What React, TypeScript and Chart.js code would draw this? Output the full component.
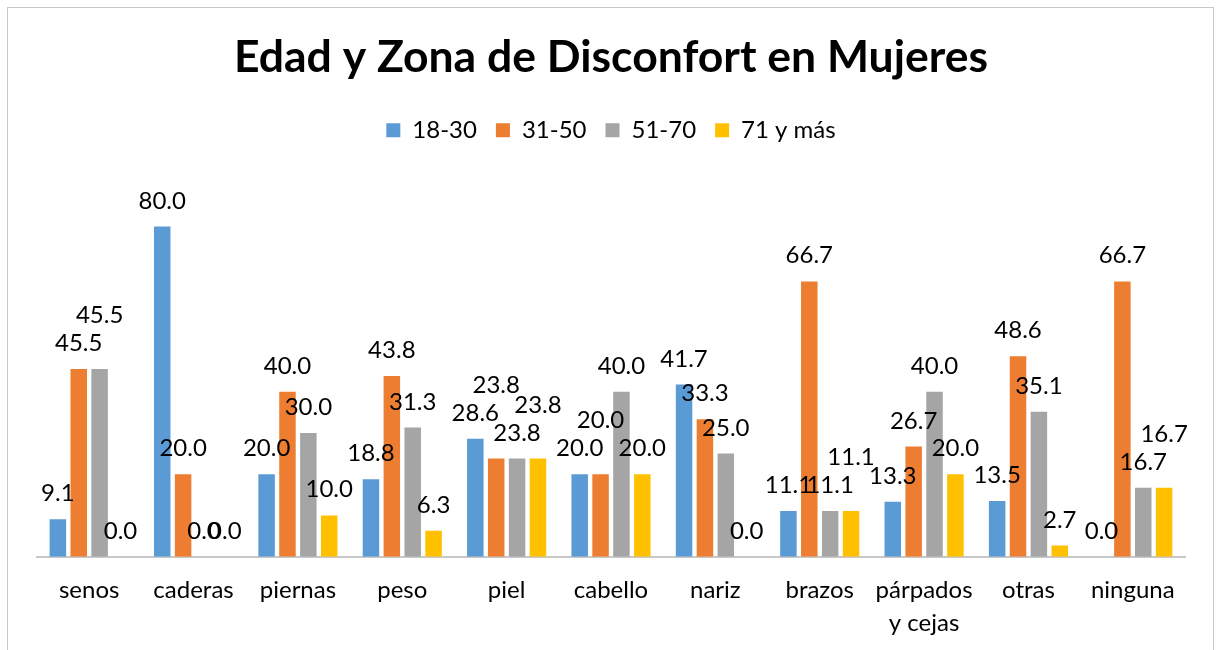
import React, { useEffect, useRef } from "react";
import { Chart, registerables } from "chart.js";

Chart.register(...registerables);

const categories: (string | string[])[] = [
  "senos", "caderas", "piernas", "peso", "piel", "cabello", "nariz", "brazos",
  ["párpados", "y cejas"], "otras", "ninguna",
];
const seriesNames = ["18-30", "31-50", "51-70", "71 y más"];
const s18_30 = [9.1, 80.0, 20.0, 18.8, 28.6, 20.0, 41.7, 11.1, 13.3, 13.5, 0.0];
const s31_50 = [45.5, 20.0, 40.0, 43.8, 23.8, 20.0, 33.3, 66.7, 26.7, 48.6, 66.7];
const s51_70 = [45.5, 0.0, 30.0, 31.3, 23.8, 40.0, 25.0, 11.1, 40.0, 35.1, 16.7];
const s71mas = [0.0, 0.0, 10.0, 6.3, 23.8, 20.0, 0.0, 11.1, 20.0, 2.7, 16.7];
const seriesColors = ["#5B9BD5", "#ED7D31", "#A5A5A5", "#FFC000"];

const FONT = "Lato";
const LABEL_SIZE = 24;

const dataLabelPlugin = {
  id: "dataLabels",
  afterDatasetsDraw(chart: any) {
    const ctx = chart.ctx;
    ctx.save();
    ctx.font = `${LABEL_SIZE}px ${FONT}`;
    ctx.fillStyle = "#000";
    ctx.textAlign = "center";
    ctx.textBaseline = "alphabetic";
    const n = chart.data.labels.length;
    for (let i = 0; i < n; i++) {
      const placed: { x: number; y: number; w: number }[] = [];
      chart.data.datasets.forEach((ds: any, di: number) => {
        const meta = chart.getDatasetMeta(di);
        const el = meta.data[i];
        if (!el) return;
        const text = Number(ds.data[i]).toFixed(1);
        const w = ctx.measureText(text).width;
        let y = el.y - 18;
        let moved = true;
        let guard = 0;
        while (moved && guard < 10) {
          moved = false;
          guard++;
          for (const p of placed) {
            const hOverlap = Math.min(el.x + w / 2, p.x + p.w / 2) - Math.max(el.x - w / 2, p.x - p.w / 2);
            if (hOverlap > 0.4 * Math.min(w, p.w) && Math.abs(y - p.y) < 22) {
              y = p.y - 28;
              moved = true;
            }
          }
        }
        placed.push({ x: el.x, y, w });
        ctx.fillText(text, el.x, y);
      });
    }
    ctx.restore();
  },
};

export default function App() {
  const canvasRef = useRef<HTMLCanvasElement | null>(null);

  useEffect(() => {
    if (!canvasRef.current) return;
    const allSeries = [s18_30, s31_50, s51_70, s71mas];
    const chart = new Chart(canvasRef.current, {
      type: "bar",
      data: {
        labels: categories,
        datasets: allSeries.map((d, k) => ({
          label: seriesNames[k],
          data: d,
          backgroundColor: seriesColors[k],
          borderWidth: 0,
          categoryPercentage: 0.8,
          barPercentage: 0.79,
        })),
      },
      options: {
        responsive: false,
        animation: false,
        layout: { padding: { left: 37, right: 31, top: 0, bottom: -7 } },
        plugins: {
          title: {
            display: true,
            text: "Edad y Zona de Disconfort en Mujeres",
            color: "#000",
            font: { family: FONT, size: 44.5, weight: "bold", lineHeight: 1.2 },
            padding: { top: 31.3, bottom: 14.5 },
          },
          legend: {
            display: true,
            position: "top",
            labels: {
              color: "#000",
              font: { family: FONT, size: LABEL_SIZE },
              boxWidth: 14,
              boxHeight: 14,
              padding: 19,
            },
          },
          tooltip: { enabled: false },
        },
        scales: {
          x: {
            grid: { display: false, drawTicks: false },
            border: { display: true, color: "#c8c8c8", width: 2 },
            ticks: {
              color: "#000",
              font: { family: FONT, size: LABEL_SIZE, lineHeight: 1.38 },
              padding: 17,
              maxRotation: 0,
              autoSkip: false,
            },
          },
          y: {
            display: false,
            min: 0,
            max: 98,
          },
        },
      },
      plugins: [dataLabelPlugin],
    });
    return () => chart.destroy();
  }, []);

  return (
    <div style={{ position: "fixed", left: 0, top: 0, width: 1216, height: 650, overflow: "hidden", background: "#fff" }}>
      <div
        style={{
          position: "absolute",
          left: 7,
          top: 7,
          width: 1207,
          height: 700,
          border: "1px solid #c8c8c8",
          boxSizing: "border-box",
        }}
      />
      <canvas
        ref={canvasRef}
        width={1216}
        height={650}
        style={{ position: "absolute", left: 0, top: 0, width: 1216, height: 650 }}
      />
    </div>
  );
}
